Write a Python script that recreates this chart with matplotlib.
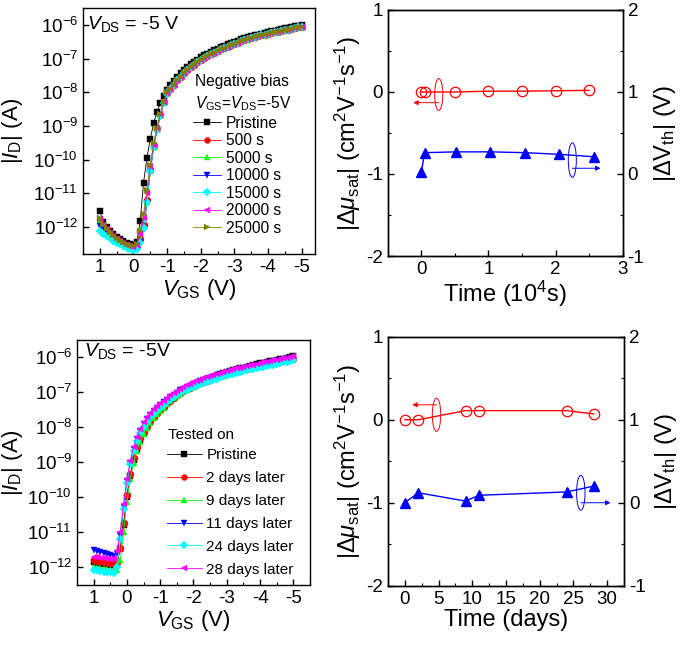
import numpy as np
import matplotlib
matplotlib.use('Agg')
import matplotlib.pyplot as plt
from matplotlib.patches import Ellipse
from matplotlib.ticker import MultipleLocator, FixedLocator, NullLocator

plt.rcParams['font.family'] = ['Liberation Sans', 'DejaVu Sans']
plt.rcParams['mathtext.fontset'] = 'custom'
plt.rcParams['mathtext.rm'] = 'Liberation Sans'
plt.rcParams['mathtext.it'] = 'Liberation Sans:italic'
plt.rcParams['mathtext.bf'] = 'Liberation Sans:bold'
plt.rcParams['axes.unicode_minus'] = False
plt.rcParams['axes.linewidth'] = 1.0

# ---------------- data ----------------
vgs = [round(1.0 - 0.1 * i, 1) for i in range(61)]   # 1.0 ... -5.0 V sweep

# top-left: log10 |I_D| under negative bias stress
tl_tail_pristine = [-7.78, -7.65, -7.53, -7.43, -7.34, -7.25, -7.17, -7.1, -7.03, -6.96,
                    -6.9, -6.85, -6.8, -6.75, -6.7, -6.65, -6.61, -6.57, -6.53, -6.49,
                    -6.46, -6.42, -6.39, -6.36, -6.33, -6.3, -6.28, -6.25, -6.23, -6.2,
                    -6.18, -6.16, -6.14, -6.12, -6.1, -6.08, -6.06, -6.04, -6.02, -6.0]
tl_tail_stress = [-7.9, -7.77, -7.64, -7.53, -7.43, -7.34, -7.26, -7.18, -7.11, -7.04,
                  -6.98, -6.92, -6.87, -6.82, -6.77, -6.72, -6.68, -6.64, -6.6, -6.56,
                  -6.52, -6.48, -6.45, -6.42, -6.39, -6.36, -6.33, -6.3, -6.28, -6.25,
                  -6.23, -6.21, -6.19, -6.17, -6.15, -6.13, -6.11, -6.09, -6.07, -6.05]
tl_pristine = [-11.53, -11.85, -12.0, -12.12, -12.22, -12.3, -12.37, -12.43, -12.48, -12.52, -12.54,
               -12.45, -11.83, -10.69, -9.95, -9.38, -8.92, -8.58, -8.33, -8.12, -7.93] + tl_tail_pristine
tl_500 = [-11.8, -11.97, -12.1, -12.2, -12.29, -12.37, -12.44, -12.5, -12.55, -12.6, -12.63,
          -12.6, -12.35, -11.95, -11.2, -10.3, -9.6, -9.1, -8.67, -8.3, -8.02] + tl_tail_stress
tl_5000 = [-11.82, -11.99, -12.12, -12.22, -12.31, -12.39, -12.46, -12.52, -12.57, -12.62, -12.65,
           -12.62, -12.38, -12.0, -11.25, -10.32, -9.62, -9.1, -8.68, -8.31, -8.03] + tl_tail_stress
tl_10000 = [-11.97, -12.1, -12.2, -12.29, -12.37, -12.44, -12.5, -12.55, -12.6, -12.64, -12.67,
            -12.66, -12.45, -12.08, -11.3, -10.36, -9.64, -9.12, -8.69, -8.32, -8.04] + tl_tail_stress
tl_15000 = [-12.12, -12.2, -12.27, -12.34, -12.41, -12.47, -12.52, -12.57, -12.62, -12.65, -12.68,
            -12.67, -12.48, -12.05, -11.25, -10.35, -9.63, -9.11, -8.69, -8.32, -8.04] + tl_tail_stress
tl_20000 = [-11.76, -11.94, -12.07, -12.18, -12.27, -12.35, -12.42, -12.48, -12.53, -12.57, -12.6,
            -12.55, -12.2, -11.75, -11.0, -10.2, -9.56, -9.07, -8.65, -8.29, -8.01] + tl_tail_stress
tl_25000 = [-11.74, -11.92, -12.05, -12.16, -12.25, -12.33, -12.4, -12.46, -12.51, -12.55, -12.58,
            -12.5, -12.12, -11.62, -10.9, -10.15, -9.52, -9.05, -8.64, -8.28, -8.0] + tl_tail_stress
tl_labels = ['Pristine', '500 s', '5000 s', '10000 s', '15000 s', '20000 s', '25000 s']

# bottom-left: log10 |I_D| after storage
bl_pristine = [-11.86, -11.88, -11.9, -11.92, -11.93, -11.94, -11.95, -11.9, -11.5, -10.8, -10.0,
               -9.4, -8.95, -8.62, -8.37, -8.17, -8.0, -7.85, -7.72, -7.61, -7.51,
               -7.42, -7.33, -7.25, -7.17, -7.1, -7.03, -6.97, -6.91, -6.86, -6.81,
               -6.77, -6.72, -6.68, -6.64, -6.6, -6.57, -6.53, -6.5, -6.47, -6.44,
               -6.41, -6.38, -6.36, -6.33, -6.31, -6.28, -6.26, -6.24, -6.21, -6.19,
               -6.17, -6.15, -6.13, -6.11, -6.09, -6.07, -6.05, -6.03, -6.01, -5.99]
bl_2d = [-11.8, -11.82, -11.84, -11.86, -11.87, -11.88, -11.9, -11.85, -11.45, -10.75, -9.95,
         -9.35, -8.9, -8.58, -8.33, -8.14, -7.97, -7.83, -7.71, -7.6, -7.51,
         -7.42, -7.33, -7.25, -7.17, -7.1, -7.04, -6.98, -6.93, -6.88, -6.84,
         -6.79, -6.75, -6.71, -6.68, -6.64, -6.61, -6.58, -6.55, -6.52, -6.49,
         -6.46, -6.44, -6.41, -6.39, -6.36, -6.34, -6.32, -6.3, -6.27, -6.25,
         -6.23, -6.21, -6.19, -6.17, -6.15, -6.13, -6.11, -6.09, -6.07, -6.05]
bl_9d = [-12.0, -12.02, -12.04, -12.06, -12.07, -12.08, -12.1, -12.1, -11.8, -11.0, -10.15,
         -9.5, -9.02, -8.68, -8.42, -8.21, -8.03, -7.88, -7.75, -7.63, -7.54,
         -7.45, -7.36, -7.27, -7.19, -7.12, -7.06, -7.0, -6.95, -6.9, -6.86,
         -6.81, -6.77, -6.73, -6.7, -6.66, -6.63, -6.6, -6.57, -6.54, -6.51,
         -6.48, -6.46, -6.43, -6.41, -6.38, -6.36, -6.34, -6.32, -6.29, -6.27,
         -6.25, -6.23, -6.21, -6.19, -6.17, -6.15, -6.13, -6.11, -6.09, -6.07]
bl_11d = [-11.52, -11.55, -11.58, -11.61, -11.63, -11.65, -11.68, -11.6, -11.1, -10.3, -9.55,
          -9.03, -8.64, -8.34, -8.11, -7.93, -7.78, -7.65, -7.54, -7.45, -7.37,
          -7.3, -7.22, -7.15, -7.08, -7.02, -6.96, -6.91, -6.86, -6.82, -6.78,
          -6.74, -6.7, -6.66, -6.63, -6.6, -6.57, -6.54, -6.51, -6.48, -6.46,
          -6.43, -6.41, -6.38, -6.36, -6.34, -6.31, -6.29, -6.27, -6.25, -6.23,
          -6.21, -6.19, -6.17, -6.15, -6.13, -6.11, -6.09, -6.07, -6.05, -6.03]
bl_24d = [-12.09, -12.1, -12.12, -12.14, -12.15, -12.16, -12.17, -12.0, -11.2, -10.35, -9.6,
          -9.07, -8.7, -8.41, -8.19, -8.01, -7.86, -7.73, -7.62, -7.53, -7.45,
          -7.38, -7.3, -7.23, -7.16, -7.1, -7.04, -6.99, -6.94, -6.9, -6.86,
          -6.82, -6.78, -6.74, -6.71, -6.68, -6.65, -6.62, -6.59, -6.56, -6.53,
          -6.5, -6.48, -6.45, -6.43, -6.41, -6.38, -6.36, -6.34, -6.32, -6.3,
          -6.28, -6.26, -6.24, -6.22, -6.2, -6.18, -6.16, -6.14, -6.12, -6.1]
bl_28d = [-11.71, -11.73, -11.75, -11.76, -11.77, -11.78, -11.78, -11.55, -11.0, -10.2, -9.5,
          -8.98, -8.58, -8.28, -8.05, -7.87, -7.72, -7.6, -7.49, -7.4, -7.32,
          -7.25, -7.17, -7.1, -7.03, -6.97, -6.91, -6.86, -6.81, -6.77, -6.73,
          -6.69, -6.65, -6.61, -6.58, -6.55, -6.52, -6.49, -6.46, -6.43, -6.41,
          -6.38, -6.36, -6.33, -6.31, -6.29, -6.26, -6.24, -6.22, -6.2, -6.18,
          -6.16, -6.14, -6.12, -6.1, -6.08, -6.06, -6.04, -6.02, -6.0, -5.98]
bl_labels = ['Pristine', '2 days later', '9 days later', '11 days later', '24 days later', '28 days later']

# top-right: parameter shifts vs stress time (10^4 s)
tr_time_mu = [0, 0.05, 0.5, 1.0, 1.5, 2.0, 2.5]
tr_dmu = [0, 0, 0, 0.01, 0.01, 0.015, 0.02]
tr_time_vth = [0, 0.05, 0.52, 1.03, 1.55, 2.05, 2.58]
tr_dvth = [0.02, 0.26, 0.27, 0.27, 0.26, 0.24, 0.21]

# bottom-right: parameter shifts vs storage time (days)
br_days = [0, 2, 9, 11, 24, 28]
br_dmu = [0, 0, 0.11, 0.11, 0.11, 0.07]
br_dvth = [0, 0.12, 0.02, 0.09, 0.13, 0.2]

# ---------------- style ----------------
TICK_FS = 13.5
LAB_FS_L = 16
LAB_FS_R = 17

tl_styles = [('black', 's'), ('red', 'o'), ('#00ff00', '^'), ('blue', 'v'),
             ('cyan', 'D'), ('magenta', '<'), ('#808000', '>')]
bl_styles = [('black', 's'), ('red', 'o'), ('#00ff00', '^'), ('blue', 'v'),
             ('cyan', 'D'), ('magenta', '<')]

fig = plt.figure(figsize=(6.85, 6.45), dpi=100)


def style_axes(ax):
    ax.tick_params(direction='in', which='both', labelsize=TICK_FS, top=False)
    ax.tick_params(which='major', length=4, width=1.0)
    ax.tick_params(which='minor', length=2.5, width=0.8)


def transfer_panel(rect, series, styles, ylim, xlim, vds_text, vds_pos):
    ax = fig.add_axes(rect)
    handles = []
    for vals, (c, m) in zip(series, styles):
        ms = 4.4 if m == 'D' else 5.0
        h, = ax.plot(vgs, 10 ** np.array(vals), color=c, marker=m, ms=ms, lw=0.6,
                     mec=c, mfc=c, mew=0.3)
        handles.append(h)
    ax.set_yscale('log')
    ax.set_ylim(10 ** ylim[0], 10 ** ylim[1])
    ax.set_xlim(*xlim)
    ax.yaxis.set_major_locator(FixedLocator([10.0 ** k for k in range(-12, -5)]))
    ax.yaxis.set_minor_locator(NullLocator())
    ax.xaxis.set_major_locator(MultipleLocator(1))
    ax.xaxis.set_minor_locator(MultipleLocator(0.5))
    style_axes(ax)
    ax.tick_params(right=False)
    ax.set_xlabel(r'$\mathit{V}_\mathrm{GS}$ (V)', fontsize=LAB_FS_L, labelpad=1)
    ax.set_ylabel(r'$|\mathit{I}_\mathrm{D}|$ (A)', fontsize=LAB_FS_L)
    ax.text(vds_pos[0], vds_pos[1], vds_text, transform=ax.transAxes,
            fontsize=14, va='center', ha='left')
    return ax, handles


# ---- top-left ----
ax1, h1 = transfer_panel([0.1212, 0.6062, 0.3387, 0.3814],
                         [tl_pristine, tl_500, tl_5000, tl_10000, tl_15000, tl_20000, tl_25000],
                         tl_styles, (-12.81, -5.49), (1.5, -5.4),
                         r'$\mathit{V}_\mathrm{DS}$ = -5 V', (0.017, 0.935))
ax1.yaxis.set_label_coords(-0.25, 0.5)
ax1.text(0.483, 0.70, 'Negative bias', transform=ax1.transAxes, fontsize=11.2,
         va='center', ha='left')
ax1.text(0.483, 0.612, r'$\mathit{V}_\mathrm{GS}$=$\mathit{V}_\mathrm{DS}$=-5V',
         transform=ax1.transAxes, fontsize=11.2, va='center', ha='left')
ax1.legend(h1, tl_labels, loc='upper left', bbox_to_anchor=(0.475, 0.562), frameon=False,
           fontsize=11.2, handlelength=1.8, handletextpad=0.3, labelspacing=0.16,
           borderpad=0, borderaxespad=0, markerscale=0.85)

# ---- bottom-left ----
ax3, h3 = transfer_panel([0.1124, 0.093, 0.3401, 0.3798],
                         [bl_pristine, bl_2d, bl_9d, bl_11d, bl_24d, bl_28d],
                         bl_styles, (-12.52, -5.52), (1.5, -5.5),
                         r'$\mathit{V}_\mathrm{DS}$ = -5V', (0.03, 0.955))
ax3.yaxis.set_label_coords(-0.225, 0.5)
ax3.text(0.39, 0.612, 'Tested on', transform=ax3.transAxes, fontsize=11,
         va='center', ha='left')
ax3.legend(h3, bl_labels, loc='upper left', bbox_to_anchor=(0.385, 0.558), frameon=False,
           fontsize=11, handlelength=2.3, handletextpad=0.3, labelspacing=0.58,
           borderpad=0, borderaxespad=0, markerscale=0.85)


def shift_panel(rect, t_mu, dmu, t_vth, dvth, xlim, xmajor, xminor, xlabel,
                ell_mu, arr_mu, ell_vth, arr_vth):
    ax = fig.add_axes(rect)
    ax.plot(t_mu, dmu, color='red', marker='o', ms=7.5, mfc='none', mec='red',
            mew=0.9, lw=1.0)
    ax.set_xlim(*xlim)
    ax.set_ylim(-2, 1)
    ax.xaxis.set_major_locator(MultipleLocator(xmajor))
    ax.xaxis.set_minor_locator(MultipleLocator(xminor))
    ax.yaxis.set_major_locator(MultipleLocator(1))
    ax.yaxis.set_minor_locator(MultipleLocator(0.5))
    style_axes(ax)
    ax.tick_params(right=False)
    ax2 = ax.twinx()
    ax2.plot(t_vth, dvth, color='blue', marker='^', ms=7.8, mfc='blue', mec='blue',
             lw=1.0)
    ax2.set_ylim(-1, 2)
    ax2.yaxis.set_major_locator(MultipleLocator(1))
    ax2.yaxis.set_minor_locator(MultipleLocator(0.5))
    ax2.tick_params(direction='in', which='both', labelsize=TICK_FS)
    ax2.tick_params(which='major', length=4, width=1.0)
    ax2.tick_params(which='minor', length=2.5, width=0.8)
    ax.add_patch(Ellipse(ell_mu[:2], ell_mu[2], ell_mu[3], fill=False,
                         edgecolor='red', lw=0.7))
    ax.annotate('', xy=arr_mu[2:], xytext=arr_mu[:2],
                arrowprops=dict(arrowstyle='-|>', color='red', lw=0.7,
                                mutation_scale=7, shrinkA=0, shrinkB=0))
    ax2.add_patch(Ellipse(ell_vth[:2], ell_vth[2], ell_vth[3], fill=False,
                          edgecolor='blue', lw=0.7))
    ax2.annotate('', xy=arr_vth[2:], xytext=arr_vth[:2],
                 arrowprops=dict(arrowstyle='-|>', color='blue', lw=0.7,
                                 mutation_scale=7, shrinkA=0, shrinkB=0))
    ax.set_xlabel(xlabel, fontsize=LAB_FS_R, labelpad=1)
    ax.set_ylabel(r'$|\Delta\mu_\mathrm{sat}|$ (cm$^2$V$^{-1}$s$^{-1}$)', fontsize=LAB_FS_R)
    ax.yaxis.set_label_coords(-0.105, 0.5)
    ax2.set_ylabel(r'$|\Delta\mathrm{V}_\mathrm{th}|$ (V)', fontsize=LAB_FS_R)
    ax2.yaxis.set_label_coords(1.125, 0.5)
    return ax, ax2


# ---- top-right ----
shift_panel([0.566, 0.6031, 0.343, 0.3814], tr_time_mu, tr_dmu, tr_time_vth, tr_dvth,
            (-0.5, 3), 1, 0.5, r'Time (10$^4$s)',
            (0.26, -0.03, 0.12, 0.39), (0.26, -0.13, -0.12, -0.13),
            (2.25, 0.17, 0.12, 0.42), (2.25, 0.07, 2.67, 0.07))

# ---- bottom-right ----
shift_panel([0.5664, 0.0919, 0.3445, 0.386], br_days, br_dmu, br_days, br_dvth,
            (-2.5, 32.5), 5, 2.5, 'Time (days)',
            (4.7, 0.06, 1.25, 0.4), (4.7, 0.18, 1.1, 0.18),
            (26.1, 0.12, 1.25, 0.42), (26.1, 0.0, 30.5, 0.0))

fig.savefig('out.png', dpi=100)
